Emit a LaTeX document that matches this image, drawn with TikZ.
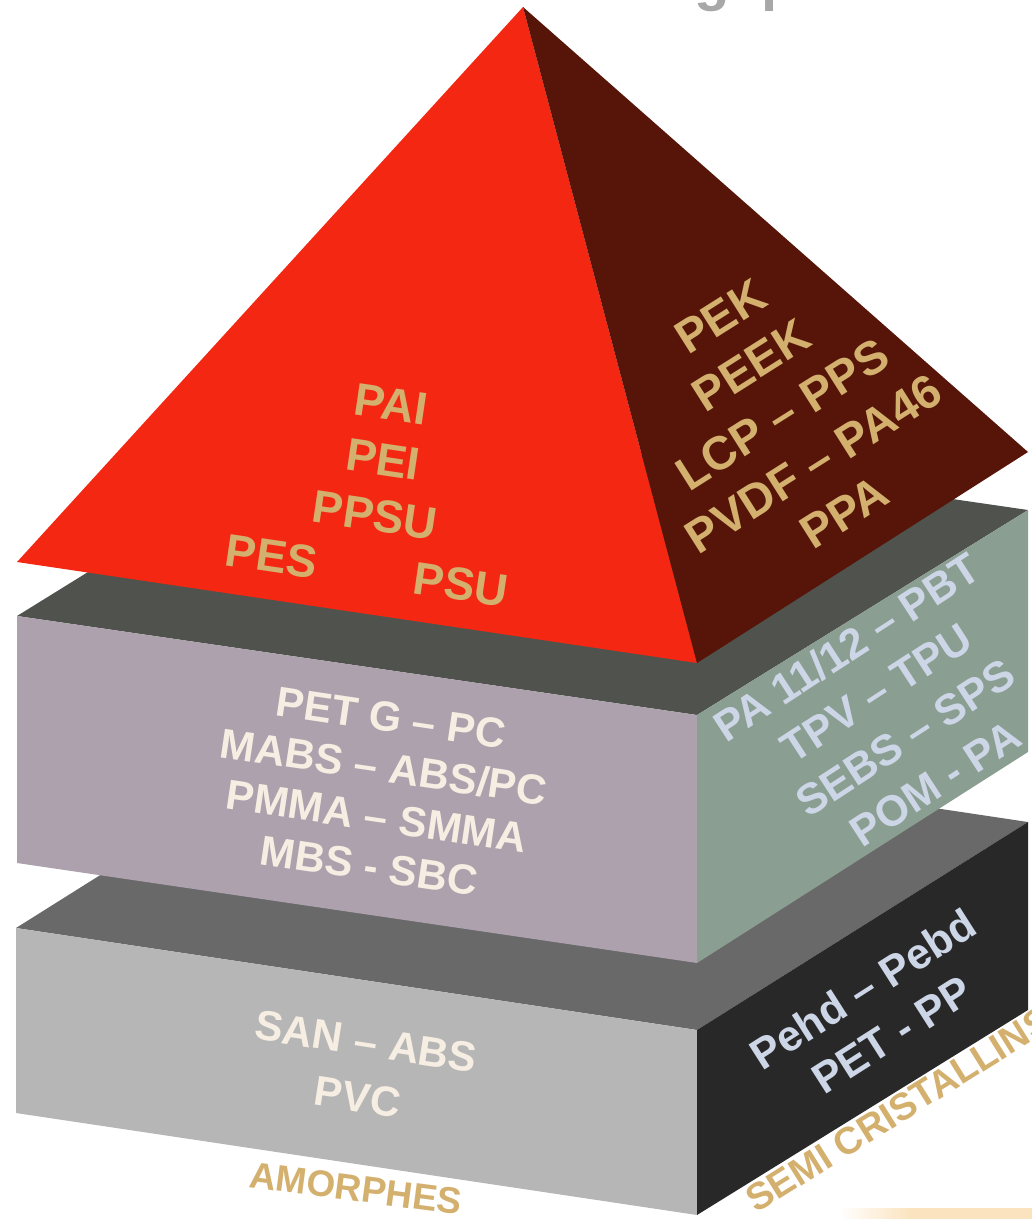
\documentclass[tikz,border=0pt]{standalone}
\usepackage{fontspec}
\setmainfont{Liberation Sans}
\definecolor{pyrred}{HTML}{F42812}
\definecolor{pyrdark}{HTML}{561508}
\definecolor{gold}{HTML}{D4B06E}
\definecolor{midtop}{HTML}{4F524D}
\definecolor{midfront}{HTML}{ADA1AD}
\definecolor{midright}{HTML}{8B9E92}
\definecolor{lowtop}{HTML}{696969}
\definecolor{lowfront}{HTML}{B6B6B6}
\definecolor{lowright}{HTML}{282828}
\definecolor{cream}{HTML}{F6EEE2}
\definecolor{paleblue}{HTML}{CDD6E6}
\definecolor{titlegrey}{HTML}{A8A8A8}
\definecolor{barorange}{HTML}{FBE3BF}
\begin{document}
\begin{tikzpicture}[x=1pt,y=-1pt,
  lbl/.style={inner sep=0pt, anchor=base, font=\bfseries},
  face/.style={draw=none}]
\useasboundingbox (0,0) rectangle (1032,1219);
\begin{scope}
\clip (0,0) rectangle (1032,1219);
% title fragment cut by the top edge
\node[inner sep=0pt, anchor=base west, text=titlegrey, font=\fontsize{58}{58}\selectfont\bfseries] (tg) at (694,-1) {g};
\node[inner sep=0pt, anchor=base west, text=titlegrey, font=\fontsize{58}{58}\selectfont\bfseries] (tp) at (761,-1) {p};
% orange bar
\shade[left color=white, right color=barorange] (840,1208) rectangle (910,1219);
\fill[barorange] (910,1208) rectangle (1032,1219);

% lower block
\coordinate (lTL) at (16,928);
\coordinate (lTF) at (697,1030);
\coordinate (lTR) at (1028,822);
\coordinate (lTB) at (347,720);
\coordinate (lBL) at (16,1113);
\coordinate (lBF) at (697,1215);
\coordinate (lBR) at (1028,1010);
\fill[lowtop] (lTL) -- (lTF) -- (lTR) -- (lTB) -- cycle;
\fill[lowfront] (lTL) -- (lTF) -- (lBF) -- (lBL) -- cycle;
\fill[lowright] (lTF) -- (lTR) -- (lBR) -- (lBF) -- cycle;

% middle block
\coordinate (mTL) at (17,616);
\coordinate (mTF) at (697,715);
\coordinate (mTR) at (1028,510);
\coordinate (mTB) at (348,411);
\coordinate (mBL) at (17,863);
\coordinate (mBF) at (697,963);
\coordinate (mBR) at (1028,752);
\fill[midtop] (mTL) -- (mTF) -- (mTR) -- (mTB) -- cycle;
\fill[midfront] (mTL) -- (mTF) -- (mBF) -- (mBL) -- cycle;
\fill[midright] (mTF) -- (mTR) -- (mBR) -- (mBF) -- cycle;

% pyramid
\coordinate (pA) at (523,7);
\coordinate (pL) at (17,562);
\coordinate (pF) at (697,663);
\coordinate (pR) at (1028,452);
\fill[pyrred] (pA) -- (pL) -- (pF) -- cycle;
\fill[pyrdark] (pA) -- (pF) -- (pR) -- cycle;

% red face text
\begin{scope}[shift={(389,420)}, rotate=-8.4, transform shape,
  every node/.style={lbl, text=gold, font=\fontsize{46}{46}\selectfont\bfseries}]
  \node (r1) at (0,0) {PAI};
  \node (r2) at (0,56) {PEI};
  \node (r3) at (0,112) {PPSU};
  \node (r4) at (0,168) {PES\hspace{98pt}PSU};
\end{scope}

% dark face text
\begin{scope}[shift={(729,330)}, rotate=32.3, transform shape,
  every node/.style={lbl, text=gold, font=\fontsize{47}{47}\selectfont\bfseries}]
  \node (d1) at (0,0) {PEK};
  \node (d2) at (0,58) {PEEK};
  \node (d3) at (0,116) {LCP – PPS};
  \node (d4) at (0,174) {PVDF – PA46};
  \node (d5) at (0,232) {PPA};
\end{scope}

% middle front text
\begin{scope}[shift={(389,732)}, rotate=-8.4, transform shape,
  every node/.style={lbl, text=cream, font=\fontsize{42}{42}\selectfont\bfseries}]
  \node (m1) at (0,0) {PET G – PC};
  \node (m2) at (0,50) {MABS – ABS/PC};
  \node (m3) at (0,100) {PMMA – SMMA};
  \node (m4) at (0,150) {MBS - SBC};
\end{scope}

% middle right text
\begin{scope}[shift={(855,660)}, rotate=33, transform shape,
  every node/.style={lbl, text=paleblue, font=\fontsize{43}{43}\selectfont\bfseries}]
  \node (g1) at (0,0) {PA 11/12 – PBT};
  \node (g2) at (0,54) {TPV – TPU};
  \node (g3) at (0,108) {SEBS – SPS};
  \node (g4) at (0,162) {POM - PA};
\end{scope}

% lower front text
\begin{scope}[shift={(364,1056)}, rotate=-8.8, transform shape,
  every node/.style={lbl, text=cream, font=\fontsize{42}{42}\selectfont\bfseries}]
  \node (s1) at (0,0) {SAN – ABS};
  \node (s2) at (0,56) {PVC};
\end{scope}

% lower right text
\begin{scope}[shift={(871,1002)}, rotate=32.5, transform shape,
  every node/.style={lbl, text=paleblue, font=\fontsize{43}{43}\selectfont\bfseries}]
  \node (b1) at (0,0) {Pehd – Pebd};
  \node (b2) at (0,54) {PET - PP};
\end{scope}

% category labels
\node[lbl, text=gold, font=\fontsize{37}{37}\selectfont\bfseries, rotate=-7.5] (amo) at (354,1201) {AMORPHES};
\node[lbl, anchor=base west, text=gold, font=\fontsize{38}{38}\selectfont\bfseries, rotate=32] (semi) at (756,1214) {SEMI CRISTALLINS};
\end{scope}
\end{tikzpicture}
\end{document}
